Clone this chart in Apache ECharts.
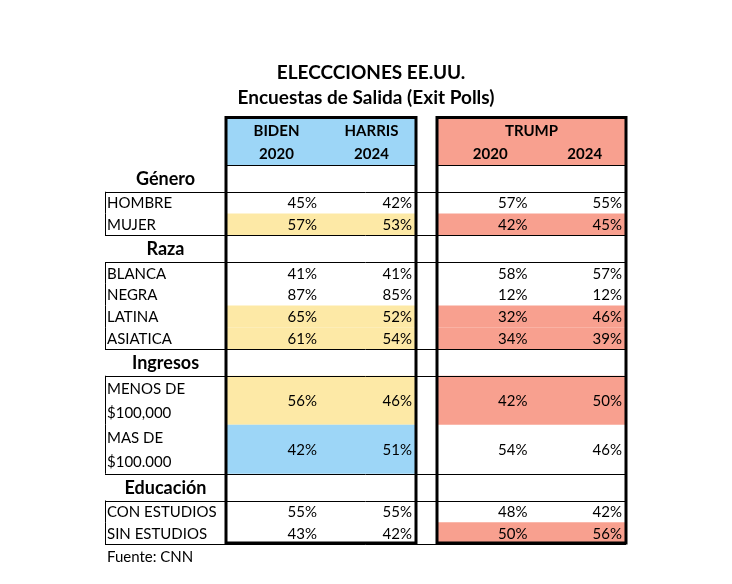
<!DOCTYPE html>
<html>
<head>
<meta charset="utf-8">
<script src="https://cdn.jsdelivr.net/npm/echarts@6/dist/echarts.min.js"></script>
<style>
html,body{margin:0;padding:0;background:#fff;}
#chart{width:732px;height:584px;}
</style>
</head>
<body>
<div id="chart"></div>
<script>
// ---------- DATA ----------
const titleText = 'ELECCCIONES EE.UU.';
const subtitleText = 'Encuestas de Salida (Exit Polls)';
const sourceText = 'Fuente: CNN';
const demNames = ['BIDEN', 'HARRIS'];
const repName = 'TRUMP';
const years = ['2020', '2024'];

const rowLabels = ['Género', 'HOMBRE', 'MUJER', 'Raza', 'BLANCA', 'NEGRA', 'LATINA', 'ASIATICA',
  'Ingresos', 'MENOS DE\n$100,000', 'MAS DE\n$100.000', 'Educación', 'CON ESTUDIOS', 'SIN ESTUDIOS'];
const rowKinds = ['group', 'row', 'row', 'group', 'row', 'row', 'row', 'row',
  'group', 'double', 'double', 'group', 'row', 'row'];
const biden2020 = [null, 45, 57, null, 41, 87, 65, 61, null, 56, 42, null, 55, 43];
const harris2024 = [null, 42, 53, null, 41, 85, 52, 54, null, 46, 51, null, 55, 42];
const trump2020 = [null, 57, 42, null, 58, 12, 32, 34, null, 42, 54, null, 48, 50];
const trump2024 = [null, 55, 45, null, 57, 12, 46, 39, null, 50, 46, null, 42, 56];
// highlight category per row: '' none, 'y' yellow, 'b' blue, 'r' salmon
const demHighlight = ['', '', 'y', '', '', '', 'y', 'y', '', 'y', 'b', '', '', ''];
const repHighlight = ['', '', 'r', '', '', '', 'r', 'r', '', 'r', '', '', '', 'r'];

// ---------- LAYOUT / STYLE ----------
const FONT = 'Lato, "Open Sans", sans-serif';
const BLUE = '#9dd6f7', YELLOW = '#fde9a6', SALMON = '#f8a08f';
const HEADER_H = 48;
const KIND_H = { group: 26.75, row: 21.75, double: 49 };
// column edges in axis units
const LABEL_COL = [0, 121];
const DATA_COLS = [[121, 216], [216, 311], [332, 426.5], [426.5, 521]];
const DEM_BOX = [121, 311], REP_BOX = [332, 521];

const edges = [0, HEADER_H];
rowKinds.forEach(k => edges.push(edges[edges.length - 1] + KIND_H[k]));
const TOTAL = edges[edges.length - 1];

const highlightColor = { y: YELLOW, b: BLUE, r: SALMON };
const valueCols = [biden2020, harris2024, trump2020, trump2024];

// data items: [y0, y1, rowIndex]  (rowIndex -1 = header)
const cellData = [[edges[0], edges[1], -1]].concat(
  rowLabels.map((_, i) => [edges[i + 1], edges[i + 2], i])
);

function txt(x, y, text, opts) {
  return {
    type: 'text',
    style: Object.assign({
      text: text, x: x, y: y, fill: '#000', fontFamily: FONT, fontSize: 15,
      align: 'left', verticalAlign: 'middle'
    }, opts || {})
  };
}
function rect(p0, p1, fill) {
  return { type: 'rect', shape: { x: p0[0], y: p0[1], width: p1[0] - p0[0], height: p1[1] - p0[1] }, style: { fill: fill } };
}
function hline(api, xa, xb, y, w) {
  const a = api.coord([xa, y]), b = api.coord([xb, y]);
  const yy = Math.round(a[1]) + 0.5;
  return { type: 'line', shape: { x1: a[0], y1: yy, x2: b[0], y2: yy }, style: { stroke: '#000', lineWidth: w || 1 } };
}
function vline(api, x, ya, yb) {
  const a = api.coord([x, ya]), b = api.coord([x, yb]);
  const xx = Math.round(a[0]) + 0.5;
  return { type: 'line', shape: { x1: xx, y1: a[1], x2: xx, y2: b[1] }, style: { stroke: '#000', lineWidth: 1 } };
}

function renderCell(params, api) {
  const y0 = api.value(0), y1 = api.value(1), i = api.value(2);
  const ym = (y0 + y1) / 2;
  const children = [];
  if (i === -1) {
    children.push(rect(api.coord([DEM_BOX[0], y0]), api.coord([DEM_BOX[1], y1]), BLUE));
    children.push(rect(api.coord([REP_BOX[0], y0]), api.coord([REP_BOX[1], y1]), SALMON));
    const yTop = y0 + (y1 - y0) * 0.29, yBot = y0 + (y1 - y0) * 0.77;
    const bold = { align: 'center', fontWeight: 'bold', fontSize: 15 };
    for (let c = 0; c < 2; c++) {
      const cx = (DATA_COLS[c][0] + DATA_COLS[c][1]) / 2 + 3;
      const p1 = api.coord([cx, yTop]), p2 = api.coord([cx, yBot]);
      children.push(txt(p1[0], p1[1], demNames[c], bold));
      children.push(txt(p2[0], p2[1], years[c], bold));
    }
    const tc = api.coord([(REP_BOX[0] + REP_BOX[1]) / 2, yTop]);
    children.push(txt(tc[0], tc[1], repName, bold));
    for (let c = 2; c < 4; c++) {
      const cx = (DATA_COLS[c][0] + DATA_COLS[c][1]) / 2 + 6;
      const p2 = api.coord([cx, yBot]);
      children.push(txt(p2[0], p2[1], years[c - 2], bold));
    }
    return { type: 'group', children: children };
  }
  const kind = rowKinds[i];
  if (kind === 'group') {
    const p = api.coord([(LABEL_COL[0] + LABEL_COL[1]) / 2, ym]);
    children.push(txt(p[0], p[1] + 1, rowLabels[i], { align: 'center', fontWeight: 'bold', fontSize: 18 }));
    return { type: 'group', children: children };
  }
  // highlights
  if (demHighlight[i]) children.push(rect(api.coord([DEM_BOX[0], y0]), api.coord([DEM_BOX[1], y1]), highlightColor[demHighlight[i]]));
  if (repHighlight[i]) children.push(rect(api.coord([REP_BOX[0], y0]), api.coord([REP_BOX[1], y1]), highlightColor[repHighlight[i]]));
  // label
  const lp = api.coord([LABEL_COL[0] + 2, ym]);
  children.push(txt(lp[0], lp[1] + 1, rowLabels[i], { lineHeight: 24 }));
  // values
  valueCols.forEach((arr, c) => {
    const v = arr[i];
    if (v == null) return;
    const p = api.coord([DATA_COLS[c][1] - 4, ym]);
    children.push(txt(p[0], p[1] + 1, v + '%', { align: 'right' }));
  });
  // grid lines
  const prevGroup = i === 0 || rowKinds[i - 1] === 'group';
  const nextGroup = i === rowKinds.length - 1 || rowKinds[i + 1] === 'group';
  if (prevGroup) children.push(hline(api, LABEL_COL[0], REP_BOX[1], y0));
  if (nextGroup) children.push(hline(api, LABEL_COL[0], REP_BOX[1], y1));
  children.push(vline(api, LABEL_COL[0], y0, y1));
  return { type: 'group', children: children };
}

function renderFrames(params, api) {
  const children = [];
  // thin line under header inside boxes
  children.push(hline(api, DEM_BOX[0], DEM_BOX[1], HEADER_H));
  children.push(hline(api, REP_BOX[0], REP_BOX[1], HEADER_H));
  [DEM_BOX, REP_BOX].forEach(b => {
    const p0 = api.coord([b[0], 0]), p1 = api.coord([b[1], TOTAL]);
    children.push({
      type: 'rect',
      shape: { x: p0[0], y: p0[1] + 0.5, width: p1[0] - p0[0], height: p1[1] - p0[1] - 1.5 },
      style: { fill: 'none', stroke: '#000', lineWidth: 3 }
    });
  });
  return { type: 'group', children: children };
}

const chart = echarts.init(document.getElementById('chart'), null, { renderer: 'canvas' });
chart.setOption({
  backgroundColor: '#fff',
  animation: false,
  title: [
    { text: titleText, left: 371, textAlign: 'center', top: 63, padding: 0, textStyle: { fontFamily: FONT, fontWeight: 'bold', fontSize: 19, color: '#000' } },
    { text: subtitleText, left: 'center', top: 88, padding: 0, textStyle: { fontFamily: FONT, fontWeight: 'bold', fontSize: 19, color: '#000' } },
    { text: sourceText, left: 107, top: 550, padding: 0, textStyle: { fontFamily: FONT, fontWeight: 'normal', fontSize: 15, color: '#000' } }
  ],
  grid: { left: 105, top: 117, width: 521, height: 427 },
  xAxis: { type: 'value', min: 0, max: 521, show: false },
  yAxis: { type: 'value', min: 0, max: TOTAL, inverse: true, show: false },
  series: [
    { type: 'custom', renderItem: renderCell, data: cellData, z: 2, silent: true, clip: false },
    { type: 'custom', renderItem: renderFrames, data: [[0]], z: 5, silent: true, clip: false }
  ]
});
</script>
</body>
</html>
